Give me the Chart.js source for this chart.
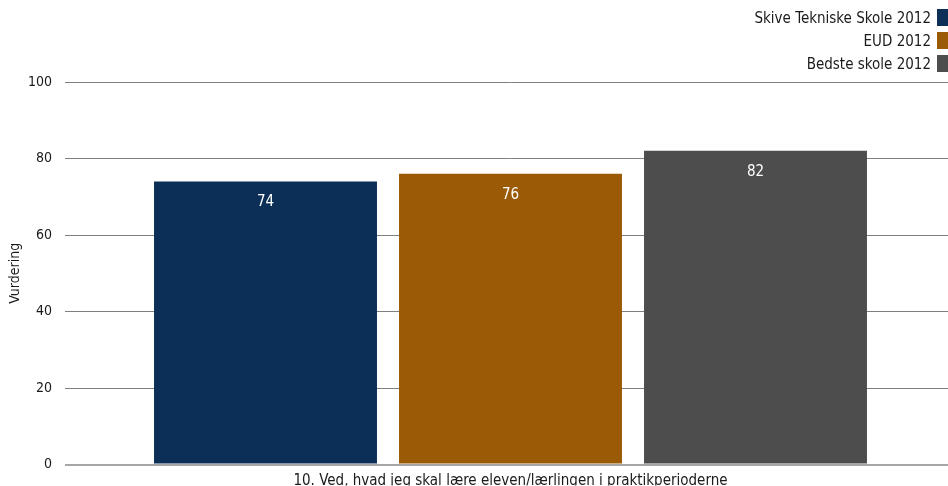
<!DOCTYPE html>
<html>
<head>
<meta charset="utf-8">
<script src="https://cdn.jsdelivr.net/npm/chart.js@4/dist/chart.umd.min.js"></script>
<style>
  html, body { margin: 0; padding: 0; background: #fff; overflow: hidden; }
  #wrap { position: relative; width: 948px; height: 486px; overflow: hidden; }
  #legend { position: absolute; right: 0; top: 6px; font-family: "DejaVu Sans Condensed", "DejaVu Sans", sans-serif; font-size: 15px; color: #1a1a1a; }
  #legend .row { display: flex; justify-content: flex-end; align-items: center; height: 23px; }
  #legend .box { width: 11px; height: 17px; margin-left: 6px; }
</style>
</head>
<body>
<div id="wrap">
  <canvas id="c" width="948" height="486"></canvas>
  <div id="legend"></div>
</div>
<script>
const categories = ["10. Ved, hvad jeg skal lære eleven/lærlingen i praktikperioderne"];
const seriesNames = ["Skive Tekniske Skole 2012", "EUD 2012", "Bedste skole 2012"];
const seriesValues = [[74], [76], [82]];
const seriesColors = ["#0c2f57", "#9a5a06", "#4d4d4d"];
const yTicks = [0, 20, 40, 60, 80, 100];
const yTitle = "Vurdering";

const FONT = '"DejaVu Sans Condensed", "DejaVu Sans", sans-serif';

// HTML legend
const leg = document.getElementById('legend');
seriesNames.forEach((n, i) => {
  const r = document.createElement('div'); r.className = 'row';
  const t = document.createElement('span'); t.textContent = n;
  const b = document.createElement('span'); b.className = 'box'; b.style.background = seriesColors[i];
  r.appendChild(t); r.appendChild(b); leg.appendChild(r);
});

const valueLabels = {
  id: 'valueLabels',
  afterDatasetsDraw(chart) {
    const ctx = chart.ctx;
    ctx.save();
    ctx.fillStyle = '#ffffff';
    ctx.font = '15px ' + FONT;
    ctx.textAlign = 'center';
    ctx.textBaseline = 'middle';
    chart.data.datasets.forEach((ds, i) => {
      chart.getDatasetMeta(i).data.forEach((bar, j) => {
        ctx.fillText(String(ds.data[j]), bar.x, bar.y + 21);
      });
    });
    ctx.restore();
  }
};

new Chart(document.getElementById('c'), {
  type: 'bar',
  data: {
    labels: categories,
    datasets: seriesNames.map((n, i) => ({
      label: n,
      data: seriesValues[i],
      backgroundColor: seriesColors[i],
      categoryPercentage: 0.84,
      barPercentage: 0.91
    }))
  },
  options: {
    responsive: false,
    animation: false,
    layout: { padding: { top: 82, right: 0, left: 0, bottom: 0 } },
    plugins: { legend: { display: false }, tooltip: { enabled: false } },
    scales: {
      x: {
        grid: { display: false },
        border: { display: false },
        ticks: { color: '#1a1a1a', font: { family: FONT, size: 15 }, padding: 0, maxRotation: 0 },
        afterFit(s) { s.height = 21; }
      },
      y: {
        min: 0, max: 100,
        afterBuildTicks(s) { s.ticks = yTicks.map(v => ({ value: v })); },
        grid: {
          drawTicks: true,
          tickLength: 8,
          color: ctx => ctx.tick && ctx.tick.value === 0 ? '#a6a6a6' : '#7f7f7f',
          lineWidth: ctx => ctx.tick && ctx.tick.value === 0 ? 2 : 1
        },
        border: { display: false },
        ticks: { color: '#1a1a1a', font: { family: FONT, size: 14 }, padding: 13 },
        title: { display: true, text: yTitle, color: '#1a1a1a', font: { family: FONT, size: 14 }, padding: { top: 7, bottom: 0 } },
        afterFit(s) { s.width = 73; }
      }
    }
  },
  plugins: [valueLabels]
});
</script>
</body>
</html>
